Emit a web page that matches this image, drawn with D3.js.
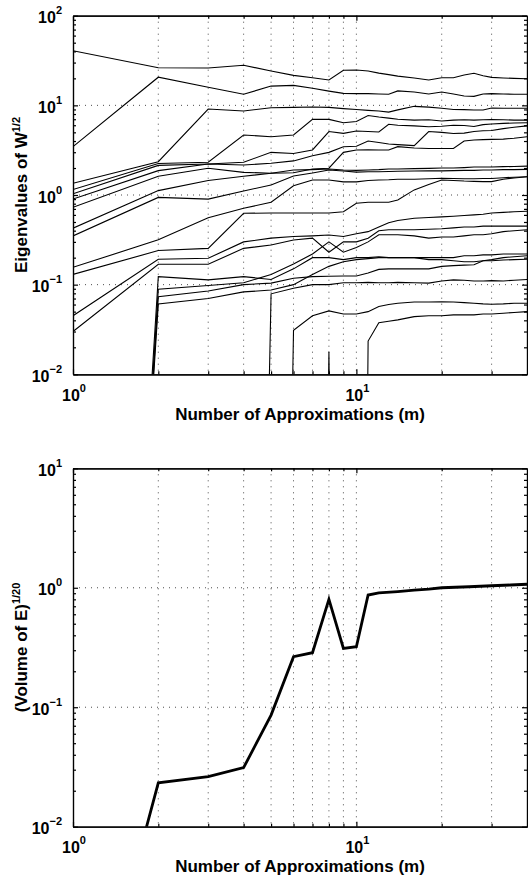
<!DOCTYPE html>
<html>
<head>
<meta charset="utf-8">
<script src="https://cdn.jsdelivr.net/npm/d3@7"></script>
<style>
body { margin: 0; background: #fff; }
svg { display: block; font-family: "Liberation Sans", Arial, Helvetica, sans-serif; font-weight: bold; }
.grid line { stroke: #000; stroke-width: 1; stroke-dasharray: 1,5; opacity: 0.7; }
.axis path, .axis line { stroke: #000; stroke-width: 1.2; }
</style>
</head>
<body>
<div id="chart"></div>
<script>
// eigenvalues of W^(1/2) vs number of approximations m (top panel)
var EPS = 1e-16;   // numerically zero eigenvalue
var mTop = [1,2,3,4,5,6,7,8,9,10,11,12,13,14,16,18,20,22,24,26,28,30,33,36,40];

var eig01 = [40.7,26.3,26.1,28.0,24.2,21.6,20.3,19.2,24.6,24.8,24.2,22.9,22.0,21.2,20.2,19.2,20.3,20.3,21.8,22.8,21.4,20.5,20.2,20.0,19.8];
var eig02 = [3.46,20.6,15.9,13.3,16.4,16.7,15.5,14.4,13.6,13.5,13.5,13.4,13.3,14.5,14.1,13.4,14.1,13.4,12.7,12.6,13.4,13.5,13.4,13.3,13.3];
var eig03 = [1.35,2.35,9.1,8.65,9.4,9.5,9.6,9.5,9.2,9.0,8.8,8.65,8.4,8.9,9.75,9.55,9.27,9.0,8.95,8.87,8.87,9.33,9.27,9.27,9.27];
var eig04 = [1.15,2.25,2.32,4.67,4.47,4.67,6.98,6.98,6.4,6.6,7.7,7.4,7.2,7.0,6.85,6.9,6.7,6.85,6.9,6.85,6.9,6.95,6.9,6.85,6.85];
var eig05 = [1.03,2.14,2.22,2.32,2.99,2.9,3.18,5.1,4.87,5.18,5.1,5.05,6.15,6.0,5.9,5.78,5.85,6.0,5.95,5.8,6.1,6.2,6.3,6.35,6.4];
var eig06 = [0.9,1.87,2.22,2.16,2.26,2.4,2.74,2.99,3.46,3.5,4.0,3.85,3.7,3.65,3.55,5.1,5.0,4.85,4.9,5.1,5.2,5.25,5.5,5.7,5.9];
var eig07 = [0.73,1.62,1.99,1.79,1.75,1.77,1.95,1.99,2.99,3.18,3.2,3.18,3.18,3.46,3.35,3.3,3.3,3.3,4.0,4.1,4.15,4.17,4.2,4.3,4.47];
var eig08 = [0.426,1.12,1.45,1.62,1.75,1.9,1.92,1.95,1.9,1.88,1.9,1.92,1.95,1.95,1.97,1.98,2.0,2.0,2.02,2.05,2.05,2.05,2.07,2.08,2.1];
var eig09 = [0.35,0.94,0.9,1.11,1.29,1.63,1.76,1.9,1.85,1.8,1.82,1.82,1.83,1.84,1.85,1.86,1.86,1.87,1.88,1.88,1.9,1.9,1.92,1.92,1.93];
var eig10 = [0.156,0.316,0.558,0.71,0.83,1.27,1.47,1.47,1.4,1.4,1.45,1.47,1.48,1.5,1.5,1.52,1.54,1.53,1.52,1.52,1.53,1.53,1.56,1.58,1.6];
var eig11 = [0.13,0.24,0.254,0.625,0.63,0.63,0.63,0.63,0.65,0.81,0.83,0.83,0.83,0.88,1.14,1.31,1.47,1.45,1.43,1.42,1.41,1.41,1.5,1.55,1.6];
var eig12 = [0.045,0.192,0.197,0.3,0.33,0.344,0.35,0.358,0.344,0.37,0.39,0.44,0.49,0.52,0.55,0.56,0.57,0.58,0.59,0.6,0.61,0.63,0.64,0.65,0.66];
var eig13 = [0.03,0.169,0.169,0.254,0.277,0.315,0.33,0.23,0.3,0.3,0.33,0.4,0.41,0.41,0.41,0.415,0.42,0.43,0.44,0.44,0.45,0.45,0.45,0.45,0.45];
var eig14 = [EPS,0.123,0.113,0.123,0.114,0.15,0.2,0.2,0.19,0.2,0.2,0.205,0.2,0.2,0.2,0.2,0.2,0.2,0.21,0.21,0.215,0.215,0.22,0.22,0.22];
var eig15 = [EPS,0.0735,0.085,0.1,0.104,0.118,0.123,0.124,0.125,0.125,0.135,0.148,0.15,0.15,0.15,0.15,0.16,0.163,0.165,0.167,0.185,0.185,0.188,0.19,0.192];
var eig16 = [EPS,0.061,0.07,0.083,0.087,0.1,0.13,0.16,0.18,0.19,0.195,0.2,0.2,0.2,0.2,0.19,0.19,0.185,0.18,0.18,0.185,0.19,0.2,0.205,0.21];
var eig17 = [EPS,0.0887,0.098,0.105,0.13,0.17,0.22,0.3,0.23,0.26,0.3,0.36,0.36,0.36,0.35,0.33,0.34,0.34,0.35,0.36,0.36,0.37,0.39,0.4,0.41];
var eig18 = [EPS,EPS,EPS,EPS,0.079,0.091,0.1,0.1,0.105,0.105,0.106,0.105,0.105,0.106,0.105,0.104,0.11,0.113,0.112,0.11,0.11,0.111,0.11,0.112,0.114];
var eig19 = [EPS,EPS,EPS,EPS,EPS,0.031,0.045,0.051,0.047,0.047,0.05,0.057,0.06,0.062,0.064,0.064,0.0645,0.064,0.063,0.062,0.061,0.0605,0.061,0.062,0.062];
var eig20 = [EPS,EPS,EPS,EPS,EPS,EPS,EPS,0.0179,EPS,EPS,0.0235,0.0376,0.039,0.0405,0.044,0.045,0.045,0.046,0.046,0.046,0.047,0.047,0.048,0.049,0.05];

var eigAll = [eig01,eig02,eig03,eig04,eig05,eig06,eig07,eig08,eig09,eig10,
              eig11,eig12,eig13,eig14,eig15,eig16,eig17,eig18,eig19,eig20];

// (volume of E)^(1/20) (bottom panel)
var mVol = [1,2,3,4,5,6,7,8,9,10,11,12,14,16,18,20,25,30,35,40];
var volume = [5e-5,0.0233,0.0262,0.0312,0.086,0.265,0.286,0.8,0.311,0.321,0.869,0.908,0.93,0.955,0.975,1.0,1.02,1.04,1.055,1.07];

// ticks
var xMajor = [1, 10];
var xMajorExp = ["0", "1"];
var xMinor = [2,3,4,5,6,7,8,9,20,30];
var yTopMajor = [0.01, 0.1, 1, 10, 100];
var yTopExp = ["\u22122", "\u22121", "0", "1", "2"];
var yBotMajor = [0.01, 0.1, 1, 10];
var yBotExp = ["\u22122", "\u22121", "0", "1"];

var width = 528, height = 880;
var left = 73, right = 527;

var svg = d3.select("#chart").append("svg")
    .attr("width", width)
    .attr("height", height);

function powLabel(t, exp) {
    t.append("tspan").text("10");
    t.append("tspan").attr("dy", -9).attr("font-size", 11).text(exp);
}

function drawPanel(cfg) {
    var x = d3.scaleLog().domain([1, 40]).range([left, right]);
    var y = d3.scaleLog().domain([cfg.yMajor[0], cfg.yMajor[cfg.yMajor.length - 1]]).range([cfg.bottom, cfg.top]);
    var g = svg.append("g");

    // dotted grid
    var grid = g.append("g").attr("class", "grid");
    grid.selectAll(".gx")
        .data(xMinor.concat([10]))
        .enter().append("line")
        .attr("x1", function(d) { return x(d); })
        .attr("x2", function(d) { return x(d); })
        .attr("y1", cfg.top)
        .attr("y2", cfg.bottom);
    grid.selectAll(".gy")
        .data(cfg.yMajor.slice(1, -1))
        .enter().append("line")
        .attr("x1", left)
        .attr("x2", right)
        .attr("y1", function(d) { return y(d); })
        .attr("y2", function(d) { return y(d); });

    // clip
    g.append("clipPath").attr("id", cfg.id + "clip")
        .append("rect")
        .attr("x", left).attr("y", cfg.top)
        .attr("width", right - left).attr("height", cfg.bottom - cfg.top);

    var line = d3.line()
        .x(function(d) { return x(d[0]); })
        .y(function(d) { return y(d[1]); });

    g.append("g").attr("clip-path", "url(#" + cfg.id + "clip)")
        .selectAll("path")
        .data(cfg.series)
        .enter().append("path")
        .attr("d", function(s) { return line(d3.zip(cfg.m, s)); })
        .attr("fill", "none")
        .attr("stroke", "#000")
        .attr("stroke-width", cfg.lw);

    // minor y ticks
    var yMinor = [];
    cfg.yMajor.slice(0, -1).forEach(function(d) {
        for (var k = 2; k < 10; k++) yMinor.push(d * k);
    });

    // box axes with inward ticks
    var ax = g.append("g").attr("class", "axis");
    ax.append("g").attr("transform", "translate(0," + cfg.bottom + ")")
        .call(d3.axisBottom(x).tickValues(xMajor).tickSize(-5).tickSizeOuter(0).tickFormat(""));
    ax.append("g").attr("transform", "translate(0," + cfg.bottom + ")")
        .call(d3.axisBottom(x).tickValues(xMinor).tickSize(-3).tickSizeOuter(0).tickFormat(""));
    ax.append("g").attr("transform", "translate(0," + cfg.top + ")")
        .call(d3.axisTop(x).tickValues(xMajor).tickSize(-5).tickSizeOuter(0).tickFormat(""));
    ax.append("g").attr("transform", "translate(0," + cfg.top + ")")
        .call(d3.axisTop(x).tickValues(xMinor).tickSize(-3).tickSizeOuter(0).tickFormat(""));
    ax.append("g").attr("transform", "translate(" + left + ",0)")
        .call(d3.axisLeft(y).tickValues(cfg.yMajor).tickSize(-5).tickSizeOuter(0).tickFormat(""));
    ax.append("g").attr("transform", "translate(" + left + ",0)")
        .call(d3.axisLeft(y).tickValues(yMinor).tickSize(-3).tickSizeOuter(0).tickFormat(""));
    ax.append("g").attr("transform", "translate(" + right + ",0)")
        .call(d3.axisRight(y).tickValues(cfg.yMajor).tickSize(-5).tickSizeOuter(0).tickFormat(""));
    ax.append("g").attr("transform", "translate(" + right + ",0)")
        .call(d3.axisRight(y).tickValues(yMinor).tickSize(-3).tickSizeOuter(0).tickFormat(""));

    // tick labels
    cfg.yMajor.forEach(function(d, i) {
        var t = g.append("text")
            .attr("x", 62)
            .attr("y", y(d) + 7.5)
            .attr("text-anchor", "end")
            .attr("font-size", 16);
        powLabel(t, cfg.yExp[i]);
    });
    xMajor.forEach(function(d, i) {
        var t = g.append("text")
            .attr("x", x(d) + 1)
            .attr("y", cfg.bottom + 26.5)
            .attr("text-anchor", "middle")
            .attr("font-size", 16);
        powLabel(t, xMajorExp[i]);
    });

    // axis titles
    g.append("text")
        .attr("x", (left + right) / 2)
        .attr("y", cfg.bottom + 45.5)
        .attr("text-anchor", "middle")
        .attr("font-size", 17)
        .text("Number of Approximations (m)");

    var yl = g.append("text")
        .attr("transform", "translate(27," + (cfg.top + cfg.bottom) / 2 + ") rotate(-90)")
        .attr("text-anchor", "middle")
        .attr("font-size", 17);
    yl.append("tspan").text(cfg.ylabel);
    yl.append("tspan").attr("dy", -7).attr("font-size", 11).text(cfg.ylabelExp);
}

drawPanel({
    id: "top", top: 15.7, bottom: 374.3,
    yMajor: yTopMajor, yExp: yTopExp,
    m: mTop, series: eigAll, lw: 1.1,
    ylabel: "Eigenvalues of W", ylabelExp: "1/2"
});

drawPanel({
    id: "bot", top: 468.3, bottom: 826.7,
    yMajor: yBotMajor, yExp: yBotExp,
    m: mVol, series: [volume], lw: 2.8,
    ylabel: "(Volume of E)", ylabelExp: "1/20"
});
</script>
</body>
</html>
